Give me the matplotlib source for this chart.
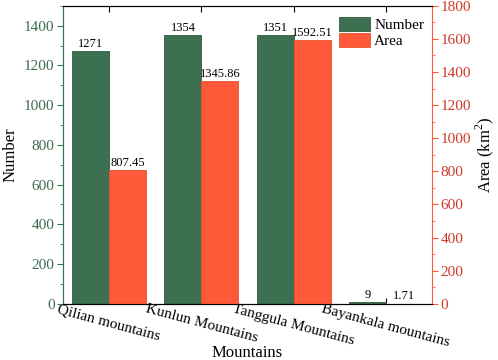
import matplotlib
matplotlib.use("Agg")
import matplotlib.pyplot as plt
import numpy as np

plt.rcParams['font.family'] = ['Liberation Serif', 'DejaVu Serif']
plt.rcParams['mathtext.fontset'] = 'custom'
plt.rcParams['mathtext.rm'] = 'Liberation Serif'

mountains = ["Qilian mountains", "Kunlun Mountains", "Tanggula Mountains", "Bayankala mountains"]
number = [1271, 1354, 1351, 9]
area = [807.45, 1345.86, 1592.51, 1.71]
area_labels = ["807.45", "1345.86", "1592.51", "1.71"]

green = "#3d7050"
red = "#fe5a3a"
green_txt = "#3d6b4f"
red_txt = "#d0382a"

fig = plt.figure(figsize=(4.98, 3.6), dpi=100)
ax = fig.add_axes([0.1265, 0.156, 0.741, 0.828])
ax2 = ax.twinx()

x = np.arange(len(mountains))
w = 0.4
ax.bar(x - w / 2, number, w, color=green, edgecolor="#2f5a3f", linewidth=0.6, label="Number", zorder=2)
ax2.bar(x + w / 2, area, w, color=red, edgecolor="#e8502f", linewidth=0.6, label="Area", zorder=2)

for xi, v in zip(x, number):
    ax.text(xi - w / 2, v + 6, str(v), ha="center", va="bottom", fontsize=9)
for xi, v, s in zip(x, area, area_labels):
    ax2.text(xi + w / 2, v + 7, s, ha="center", va="bottom", fontsize=9)

ax.set_xlim(-0.5, 3.5)
ax.set_ylim(0, 1500)
ax2.set_ylim(0, 1800)
ax.set_yticks(np.arange(0, 1401, 200))
ax.set_yticks(np.arange(0, 1501, 100), minor=True)
ax2.set_yticks(np.arange(0, 1801, 200))
ax2.set_yticks(np.arange(0, 1801, 100), minor=True)

ax.set_xticks(x)
ax.set_xticklabels(mountains, rotation=-15, ha="center", fontsize=11)
ax.tick_params(axis="x", direction="in", top=True, length=4, pad=-1)
ax.tick_params(axis="y", which="major", colors=green, labelcolor=green_txt, labelsize=11, length=4, pad=2)
ax.tick_params(axis="y", which="minor", colors=green, length=2)
ax2.tick_params(axis="y", which="major", colors=red, labelcolor=red_txt, labelsize=11, length=4, pad=2)
ax2.tick_params(axis="y", which="minor", colors=red, length=2)

ax.spines["left"].set_color(green)
ax2.spines["left"].set_color(green)
ax2.spines["right"].set_color(red)
ax.spines["right"].set_visible(False)

ax.set_xlabel("Mountains", fontsize=12, va="baseline")
ax.xaxis.set_label_coords(0.5, -0.179)
ax.set_ylabel("Number", fontsize=12, labelpad=4)
ax2.set_ylabel("Area (km$^2$)", fontsize=12, labelpad=2)

h1, l1 = ax.get_legend_handles_labels()
h2, l2 = ax2.get_legend_handles_labels()
ax2.legend(h1 + h2, l1 + l2, loc="upper left", bbox_to_anchor=(0.748, 0.963), frameon=False,
           borderpad=0, borderaxespad=0, fontsize=11, handlelength=2.0, handleheight=1.05,
           handletextpad=0.3, labelspacing=0.05)

fig.savefig("out.png", dpi=100)
